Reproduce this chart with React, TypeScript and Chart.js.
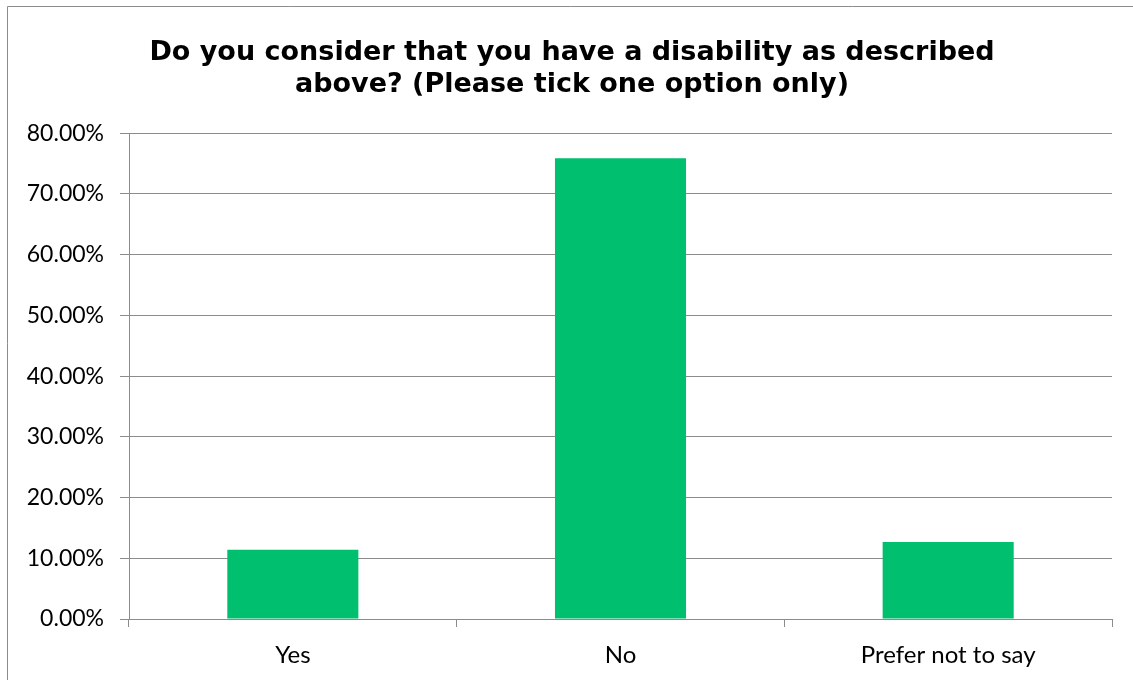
import React, { useEffect, useRef } from "react";
import { Chart, registerables } from "chart.js";

Chart.register(...registerables);

const categories = ["Yes", "No", "Prefer not to say"];
const values = [11.4, 75.9, 12.7];
const yMax = 80;
const yStep = 10;
const titleLines = [
  "Do you consider that you have a disability as described",
  "above? (Please tick one option only)",
];

const borderPlugin = {
  id: "outerBorder",
  beforeDraw(chart: any) {
    const ctx = chart.ctx;
    ctx.save();
    ctx.fillStyle = "#ffffff";
    ctx.fillRect(0, 0, chart.width, chart.height);
    ctx.strokeStyle = "#8c8c8c";
    ctx.lineWidth = 1;
    ctx.beginPath();
    ctx.moveTo(7.5, chart.height + 5);
    ctx.lineTo(7.5, 6.5);
    ctx.lineTo(chart.width + 5, 6.5);
    ctx.stroke();
    ctx.restore();
  },
};

export default function App() {
  const ref = useRef<HTMLCanvasElement>(null);
  useEffect(() => {
    document.body.style.margin = "0";
    const chart = new Chart(ref.current!, {
      type: "bar",
      data: {
        labels: categories,
        datasets: [
          {
            data: values,
            backgroundColor: "#00BF6F",
            barPercentage: 0.4,
            categoryPercentage: 1,
          },
        ],
      },
      options: {
        animation: false,
        responsive: false,
        layout: { padding: { top: 37, right: 0, left: 11, bottom: 0 } },
        plugins: {
          legend: { display: false },
          tooltip: { enabled: false },
          title: {
            display: true,
            text: titleLines,
            color: "#000000",
            font: { family: "DejaVu Sans", size: 27, weight: "bold", lineHeight: 1.19 },
            padding: { top: 0, bottom: 32 },
          },
        },
        scales: {
          x: {
            grid: {
              offset: true,
              drawOnChartArea: false,
              tickLength: 8,
              color: "#8c8c8c",
            },
            border: { color: "#8c8c8c" },
            ticks: {
              color: "#000000",
              padding: 14,
              font: { family: "Lato", size: 24 },
            },
            afterFit(scale: any) {
              scale.height = 61;
            },
          },
          y: {
            min: 0,
            max: yMax,
            ticks: {
              stepSize: yStep,
              color: "#000000",
              padding: 16,
              font: { family: "Lato", size: 23 },
              callback: (v: any) => Number(v).toFixed(2) + "%",
            },
            grid: { color: "#8c8c8c", tickLength: 9 },
            border: { color: "#8c8c8c" },
            afterFit(scale: any) {
              scale.width = 118;
            },
          },
          yRight: {
            position: "right",
            display: true,
            grid: { display: false },
            border: { display: false },
            ticks: { display: false },
            afterFit(scale: any) {
              scale.width = 21;
            },
          },
        },
      },
      plugins: [borderPlugin],
    });
    return () => chart.destroy();
  }, []);
  return <canvas ref={ref} width={1133} height={680} style={{ display: "block" }} />;
}
